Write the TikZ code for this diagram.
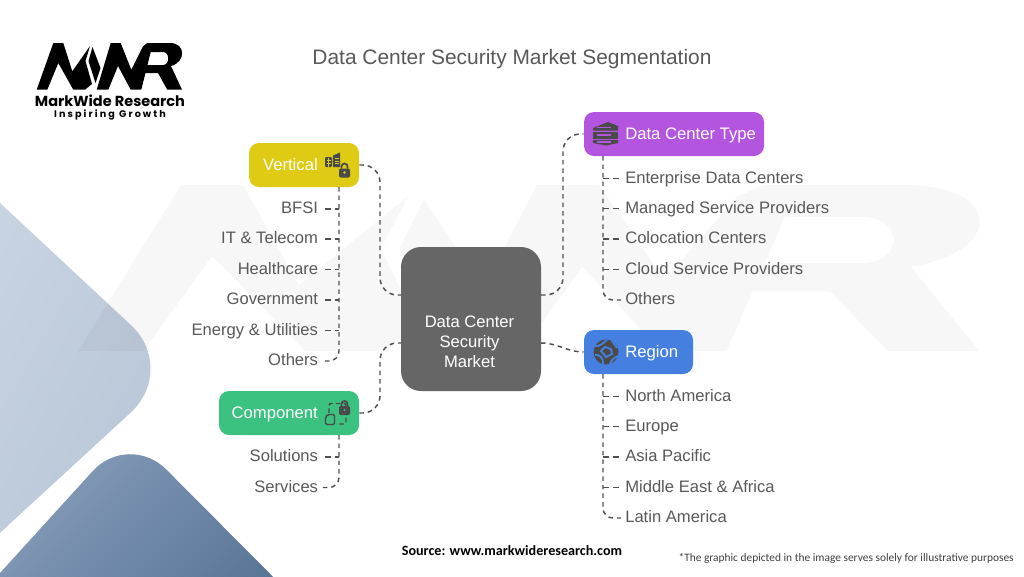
\documentclass[tikz,border=0pt]{standalone}
\usepackage{fontspec}
\setmainfont{Liberation Sans}
\newfontfamily\srcfont{Carlito}
\newfontfamily\logofont{Poppins}
\newfontfamily\logospaced[LetterSpace=22]{Poppins}
\usetikzlibrary{calc}
\definecolor{txt}{HTML}{595959}
\definecolor{conn}{HTML}{505050}
\definecolor{icon}{HTML}{4A4A4A}
\definecolor{cyel}{HTML}{DFCB14}
\definecolor{cgrn}{HTML}{3CC280}
\definecolor{cpur}{HTML}{B455E0}
\definecolor{cblu}{HTML}{4580E0}
\definecolor{ccen}{HTML}{666666}
\definecolor{lta}{HTML}{CAD5E3}
\definecolor{ltb}{HTML}{B7C5D6}
\definecolor{dka}{HTML}{8DA2BE}
\definecolor{dkb}{HTML}{557294}
\newcommand{\logoshape}{%
 (36.7,89.7) -- (47.3,89.7) -- (58.3,63) -- (73.3,89.7) -- (85,89.7) -- (92,84) -- (85.5,61) -- (90,46) -- (72.3,71.3) -- (63.3,43) -- (53.3,43) -- cycle
 (92.5,47) -- (100.5,68) -- (95.5,83) -- (88.5,61) -- cycle
 (96.7,89.7) -- (108.3,89.7) -- (118,66) -- (130.7,89.7) -- (141.3,89.7) -- (150.7,52) -- (163,52)
   .. controls (170,52) and (170,65) .. (163,65) -- (147.3,65) -- (144,73) -- (158,73) -- (167.3,89.7) -- (182,89.7) -- (171,66)
   .. controls (186,62) and (186,43) .. (170,43) -- (147.3,43) -- (143,46.3) -- (131.3,69.7) -- (120.7,43) -- (110.7,43) -- cycle
}
\newcommand{\lockicon}[3]{% cx, top, colour
 \draw[#3,line width=1.3pt] (#1-3,#2+5) -- (#1-3,#2+3) arc[start angle=180,end angle=360,x radius=3,y radius=3] -- (#1+3,#2+5);
 \fill[#3,rounded corners=1pt] (#1-5.5,#2+5) rectangle (#1+5.5,#2+14);
}
\tikzset{
 x=0.75pt,y=-0.75pt,
 boxbase/.style={rounded corners=7.5pt,minimum height=33pt,inner sep=0pt},
 boxlabel/.style={text=white,font=\fontsize{12.5}{15}\selectfont,inner xsep=0pt,inner ysep=0pt,text height=.72em,text depth=0pt},
 item/.style={text=txt,font=\fontsize{12.45}{15}\selectfont,inner xsep=3pt,inner ysep=0pt,text height=.72em,text depth=0pt},
 dashline/.style={draw=conn,line width=1.1pt,dash pattern=on 3.4pt off 3pt,rounded corners=13pt},
 trunk/.style={draw=conn,line width=1.1pt,dash pattern=on 3.4pt off 3pt,rounded corners=7.5pt},
 link/.style={draw=conn,line width=1.1pt,dash pattern=on 3.4pt off 3pt},
 stubl/.style={draw=conn,line width=1.1pt,dash pattern=on 4.5pt off 3pt,shorten <=2pt},
 stubr/.style={draw=conn,line width=1.1pt,dash pattern=on 4.5pt off 3pt,shorten <=1.5pt},
}
\begin{document}
\begin{tikzpicture}
\useasboundingbox (0,0) rectangle (1024,576);
\fill[white] (0,0) rectangle (1024,576);
\begin{scope}
\clip (0,0) rectangle (1024,576);
\path[top color=lta,bottom color=ltb,rounded corners=48pt,shading angle=60] (-60,147) -- (178,369) -- (-60,588) -- cycle;
\path[top color=dka,bottom color=dkb,rounded corners=40pt,shading angle=45] (128.6,431.6) -- (320,624) -- (-60,639) -- cycle;
\end{scope}
% watermark
\begin{scope}[shift={(-112.05pt,-24.26pt)},x=4.65pt,y=-2.6625pt]
\fill[black,opacity=.03] \logoshape;
\end{scope}
% logo
\fill[black] \logoshape;
\node[font=\logofont\bfseries\fontsize{10.9}{12}\selectfont,text=black,inner sep=0pt] (logoa) at (110,101) {MarkWide Research};
\node[font=\logospaced\bfseries\fontsize{7.2}{9}\selectfont,text=black,inner sep=0pt] (logob) at (110,115) {Inspiring Growth};
\node[text=txt,font=\fontsize{15.7}{18}\selectfont,inner sep=0pt] (title) at (512,59) {Data Center Security Market Segmentation};
% boxes
\node[fill=ccen,rounded corners=15pt,minimum width=105pt,minimum height=108pt,inner sep=0pt] (c) at (471,319) {};
\node[text=white,align=center,inner sep=0pt,font=\fontsize{12.45}{15}\selectfont] (cl) at (469.5,342) {Data Center\\Security\\Market};
\node[boxbase,fill=cyel,minimum width=82.5pt] (v) at (304,165) {};
\node[boxbase,fill=cgrn,minimum width=105pt] (k) at (289,413) {};
\node[boxbase,fill=cpur,minimum width=135pt] (d) at (674,134) {};
\node[boxbase,fill=cblu,minimum width=81.75pt] (r) at (638.5,352) {};
\node[boxlabel,anchor=east] (vl) at (318,165.5) {Vertical};
\node[boxlabel,anchor=east] (kl) at (318,413.5) {Component};
\node[boxlabel,anchor=west] (dl) at (625,135) {Data Center Type};
\node[boxlabel,anchor=west] (rl) at (625,353) {Region};
% items
\foreach \n/\y/\t in {a/208/BFSI,b/238/IT \& Telecom,e/268.5/Healthcare,f/299/Government,g/329.5/Energy \& Utilities,h/360/Others}
  \node[item,anchor=east] (v\n) at (322.3,\y+1) {\t};
\foreach \n/\y/\t in {a/456/Solutions,b/486.5/Services}
  \node[item,anchor=east] (k\n) at (322.3,\y+1) {\t};
\foreach \n/\y/\t in {a/177.5/Enterprise Data Centers,b/207.5/Managed Service Providers,e/238/Colocation Centers,f/268.5/Cloud Service Providers,g/299/Others}
  \node[item,anchor=west] (d\n) at (621,\y+1) {\t};
\foreach \n/\y/\t in {a/395.5/North America,b/425.5/Europe,e/456/Asia Pacific,f/486.5/Middle East \& Africa,g/517/Latin America}
  \node[item,anchor=west] (r\n) at (621,\y+1) {\t};
% trunks
\coordinate (vt) at (339,187);
\coordinate (kt) at (339,435);
\coordinate (dt) at (603,156);
\coordinate (rt) at (603,374);
\coordinate (cwa) at (401,295);
\coordinate (cwb) at (401,343);
\coordinate (cea) at (541,295);
\coordinate (ceb) at (541,343);
\coordinate (xa) at (380,0);
\coordinate (xb) at (563,0);
\draw[dashline] (v.east) -- (v.east -| xa) -- (xa |- cwa) -- (cwa);
\draw[dashline] (k.east) -- (k.east -| xa) -- (xa |- cwb) -- (cwb);
\draw[dashline] (cea) -- (cea -| xb) -- (xb |- d.west) -- (d.west);
\draw[link] (ceb) to[out=0,in=180] (r.west);
\draw[trunk] (vt) |- (vh.east);
\draw[trunk] (kt) |- (kb.east);
\draw[trunk] (dt) |- (dg.west);
\draw[trunk] (rt) |- (rg.west);
\foreach \n in {a,b,e,f,g} \draw[stubl] (v\n.east) -- (v\n.east -| vt);
\draw[stubl] (ka.east) -- (ka.east -| kt);
\foreach \n in {a,b,e,f} \draw[stubr] (d\n.west) -- (d\n.west -| dt);
\foreach \n in {a,b,e,f} \draw[stubr] (r\n.west) -- (r\n.west -| rt);
% vertical icon
\fill[icon,rounded corners=.8pt] (325,157) rectangle (332,167);
\fill[icon] (333,155.5) -- (340,152.5) -- (340,167) -- (333,167) -- cycle;
\draw[cyel,line width=.7pt] (326.5,160) -- (330.5,160) (326.5,163) -- (330.5,163) (328.5,158) -- (328.5,167);
\draw[cyel,line width=.7pt] (334.5,158.5) -- (339,158.5) (334.5,161) -- (339,161) (334.5,163.5) -- (339,163.5);
\lockicon{344.5}{163.5}{icon}
\fill[cyel] (344.5,172.5) circle[radius=1.3];
% component icon
\draw[icon,line width=1.1pt,dash pattern=on 3.4pt off 2.4pt,rounded corners=1.5pt] (329,413) -- (329,403.5) -- (346,403.5) -- (346,424) -- (336,424);
\draw[icon,line width=1.1pt,rounded corners=1pt] (325.5,424.5) -- (325.5,417) -- (328,414.5) -- (334.5,414.5) -- (334.5,424.5) -- cycle;
\lockicon{344.5}{401}{icon}
\fill[cgrn] (344.5,410) circle[radius=1.2];
% data centre icon
\fill[icon] (593,128) -- (608,122) -- (618,126) -- (618,130.5) -- (593,130.5) -- cycle;
\fill[icon] (593,132) -- (618,132) -- (618,138.5) -- (593,138.5) -- cycle;
\fill[icon] (593,140) -- (618,140) -- (618,143) -- (606,145.5) -- (593,143) -- cycle;
\draw[cpur,line width=.9pt] (597,127.5) -- (611,127.5) (597,135) -- (611,135) (597,142) -- (611,142);
% globe icon
\fill[icon] (606,352) circle[radius=12.5];
\draw[cblu,line width=1.4pt] (594,346) .. controls (600,347) and (603,343) .. (607,340);
\draw[cblu,line width=1.4pt] (603,364) .. controls (604,358) and (599,354) .. (595,355);
\draw[cblu,line width=1.4pt] (618,356) .. controls (613,358) and (611,361) .. (610,364);
\draw[cblu,line width=1.4pt] (601,351) -- (605,347) -- (611,349) -- (612,354) -- (606,357) -- cycle;
\draw[cblu,line width=1.4pt] (612,341) -- (617,348);
% footer
\node[font=\srcfont\bfseries\fontsize{10.6}{13}\selectfont,text=black,inner sep=0pt] (src) at (512,551) {Source: www.markwideresearch.com};
\node[font=\srcfont\fontsize{8.55}{11}\selectfont,text=black!75,inner sep=0pt,anchor=east] (note) at (1014,558) {*The graphic depicted in the image serves solely for illustrative purposes};
\end{tikzpicture}
\end{document}
